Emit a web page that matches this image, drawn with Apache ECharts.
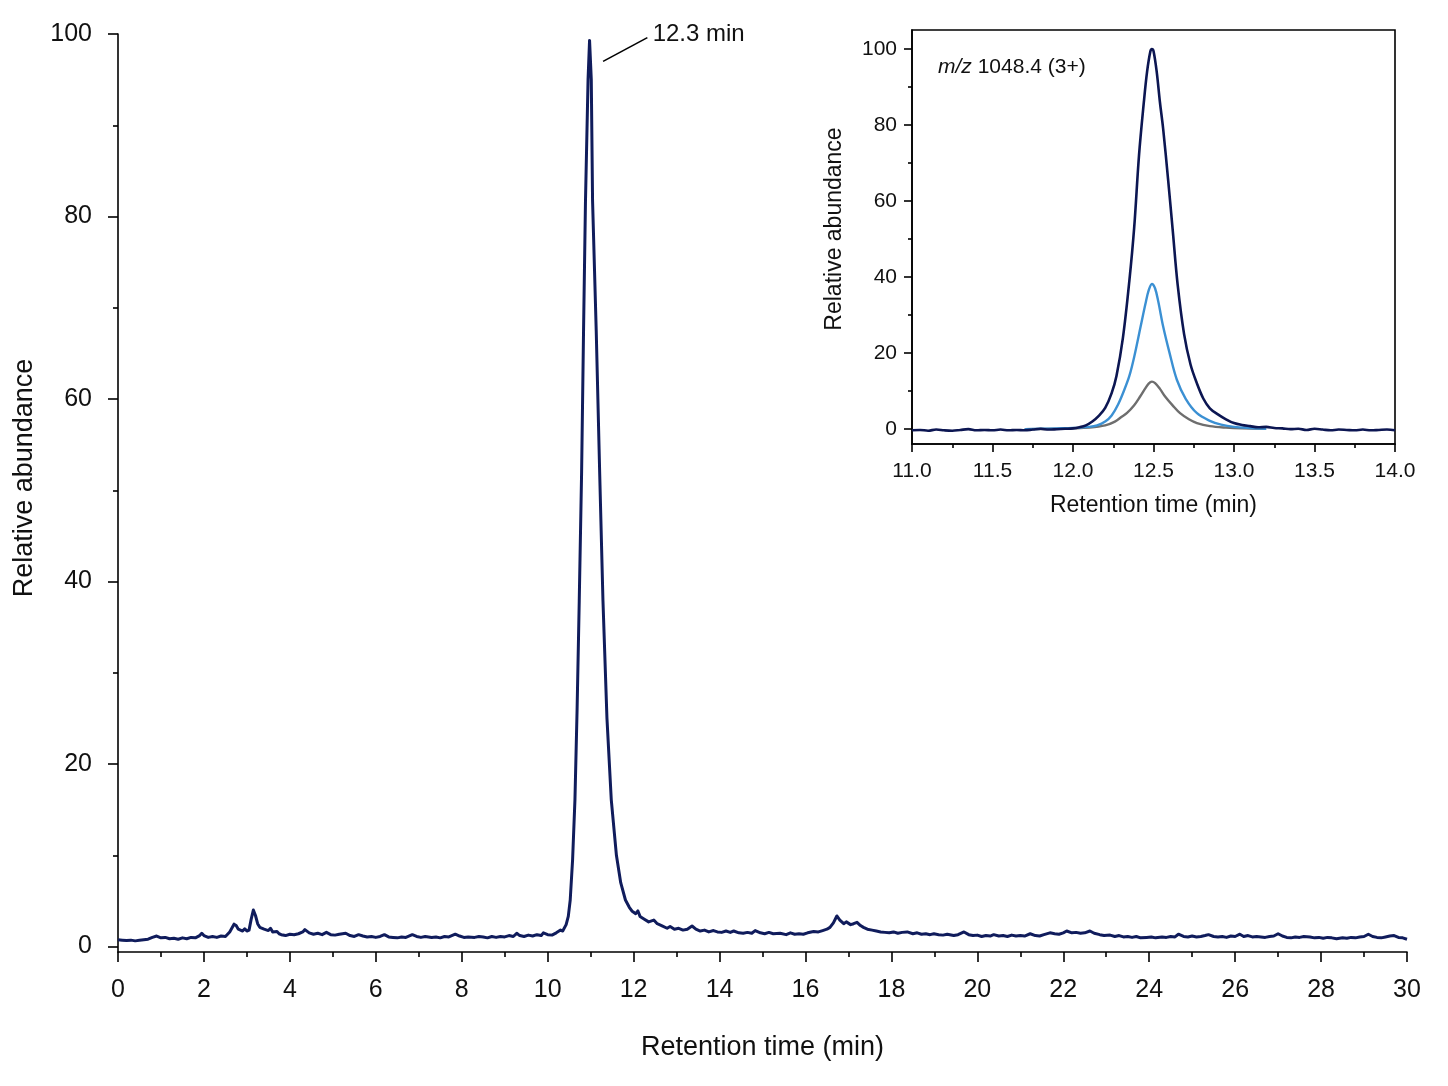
<!DOCTYPE html>
<html>
<head>
<meta charset="utf-8">
<title>Chromatogram</title>
<script src="https://cdn.jsdelivr.net/npm/echarts@6.0.0/dist/echarts.min.js"></script>
<style>
  html, body { margin: 0; padding: 0; background: #fff; }
  #chart { width: 1448px; height: 1086px; }
</style>
</head>
<body>
<div id="chart"></div>
<script>
  // main trace: [retention time (min), relative abundance]
  var mainTrace = [
    [0.0,0.75],[0.1,0.7],[0.2,0.65],[0.3,0.7],[0.4,0.62],[0.5,0.68],[0.6,0.75],[0.7,0.8],[0.8,1.0],[0.9,1.15],
    [1.0,0.95],[1.1,1.0],[1.2,0.85],[1.3,0.9],[1.4,0.8],[1.5,0.95],[1.6,0.85],[1.7,1.0],[1.8,0.95],[1.9,1.2],
    [1.95,1.45],[2.0,1.2],[2.1,1.0],[2.2,1.1],[2.3,1.0],[2.4,1.15],[2.5,1.1],[2.6,1.6],[2.7,2.45],[2.75,2.3],
    [2.8,1.9],[2.9,1.7],[2.95,1.95],[3.0,1.7],[3.05,1.8],[3.1,3.0],[3.15,4.0],[3.2,3.4],[3.25,2.5],[3.3,2.1],
    [3.4,1.9],[3.5,1.75],[3.55,2.0],[3.6,1.6],[3.7,1.65],[3.75,1.4],[3.8,1.3],[3.9,1.2],[4.0,1.35],[4.1,1.3],
    [4.2,1.4],[4.3,1.6],[4.35,1.85],[4.45,1.5],[4.55,1.35],[4.65,1.45],[4.75,1.3],[4.85,1.55],[4.95,1.3],[5.05,1.25],
    [5.15,1.35],[5.3,1.45],[5.4,1.2],[5.5,1.1],[5.6,1.3],[5.7,1.15],[5.8,1.05],[5.9,1.1],[6.0,1.0],[6.1,1.1],
    [6.2,1.3],[6.3,1.05],[6.4,1.0],[6.5,0.95],[6.6,1.05],[6.7,1.0],[6.85,1.3],[6.95,1.1],[7.05,1.0],[7.15,1.1],
    [7.3,1.0],[7.4,1.05],[7.5,0.95],[7.6,1.1],[7.7,1.05],[7.85,1.35],[7.95,1.15],[8.05,1.0],[8.15,1.05],[8.3,1.0],
    [8.4,1.1],[8.5,1.05],[8.6,0.95],[8.7,1.1],[8.8,1.0],[8.9,1.1],[9.0,1.05],[9.1,1.2],[9.2,1.1],[9.28,1.45],
    [9.35,1.2],[9.45,1.1],[9.55,1.25],[9.65,1.15],[9.75,1.3],[9.85,1.2],[9.9,1.5],[10.0,1.3],[10.1,1.25],[10.2,1.5],
    [10.3,1.8],[10.35,1.7],[10.43,2.4],[10.48,3.3],[10.525,5.1],[10.58,9.5],[10.635,16.1],[10.685,26],[10.735,37.9],[10.79,52],
    [10.835,67.5],[10.88,81.7],[10.94,95],[10.975,99.3],[11.015,95],[11.045,81.7],[11.13,67.5],[11.21,52],[11.287,37.9],[11.38,25],
    [11.48,16.1],[11.6,10],[11.7,7],[11.81,5.1],[11.9,4.3],[11.96,3.9],[12.05,3.6],[12.1,3.9],[12.15,3.3],[12.25,3.0],
    [12.35,2.7],[12.47,2.9],[12.55,2.5],[12.65,2.3],[12.78,2.0],[12.85,2.2],[12.95,1.9],[13.05,2.0],[13.15,1.8],[13.25,1.9],
    [13.36,2.25],[13.45,1.9],[13.55,1.7],[13.65,1.8],[13.75,1.6],[13.86,1.75],[13.95,1.6],[14.05,1.55],[14.15,1.7],[14.25,1.55],
    [14.33,1.7],[14.45,1.5],[14.55,1.45],[14.65,1.55],[14.75,1.45],[14.83,1.75],[14.95,1.5],[15.05,1.4],[15.15,1.55],[15.25,1.4],
    [15.41,1.45],[15.55,1.3],[15.65,1.5],[15.75,1.35],[15.85,1.4],[15.95,1.35],[16.05,1.5],[16.19,1.65],[16.3,1.6],[16.4,1.75],
    [16.5,1.9],[16.57,2.1],[16.65,2.6],[16.73,3.35],[16.8,2.9],[16.89,2.5],[16.95,2.7],[17.05,2.4],[17.12,2.5],[17.2,2.65],
    [17.28,2.3],[17.35,2.1],[17.44,1.9],[17.55,1.8],[17.65,1.7],[17.75,1.6],[17.85,1.55],[17.95,1.5],[18.05,1.6],[18.15,1.45],
    [18.25,1.55],[18.37,1.6],[18.5,1.4],[18.6,1.5],[18.7,1.35],[18.8,1.4],[18.9,1.3],[18.99,1.4],[19.1,1.3],[19.2,1.25],
    [19.3,1.35],[19.45,1.2],[19.55,1.3],[19.69,1.6],[19.8,1.3],[19.9,1.2],[20.0,1.25],[20.1,1.1],[20.2,1.2],[20.3,1.15],
    [20.38,1.3],[20.5,1.15],[20.6,1.2],[20.7,1.1],[20.8,1.25],[20.9,1.15],[21.0,1.2],[21.1,1.15],[21.23,1.4],[21.35,1.2],
    [21.45,1.15],[21.55,1.3],[21.69,1.5],[21.8,1.4],[21.9,1.35],[22.0,1.5],[22.08,1.7],[22.2,1.5],[22.3,1.55],[22.4,1.45],
    [22.5,1.5],[22.62,1.7],[22.72,1.45],[22.85,1.3],[22.95,1.2],[23.09,1.25],[23.2,1.1],[23.3,1.2],[23.4,1.05],[23.5,1.1],
    [23.6,1.0],[23.7,1.1],[23.8,0.95],[23.94,1.0],[24.05,1.05],[24.15,0.95],[24.3,1.05],[24.4,1.0],[24.5,1.1],[24.6,1.05],
    [24.68,1.35],[24.8,1.1],[24.9,1.05],[25.0,1.15],[25.1,1.05],[25.2,1.1],[25.3,1.2],[25.38,1.3],[25.5,1.1],[25.6,1.05],
    [25.7,1.1],[25.8,1.0],[25.9,1.15],[26.0,1.1],[26.11,1.35],[26.2,1.1],[26.3,1.2],[26.4,1.05],[26.5,1.1],[26.6,1.05],
    [26.7,1.0],[26.8,1.1],[26.9,1.15],[27.0,1.4],[27.1,1.15],[27.2,1.0],[27.3,0.95],[27.4,1.05],[27.5,1.0],[27.6,1.1],
    [27.74,1.05],[27.85,0.95],[27.95,1.0],[28.05,0.9],[28.15,1.0],[28.25,0.95],[28.36,0.85],[28.5,0.95],[28.6,0.9],[28.7,1.0],
    [28.8,0.95],[28.9,1.05],[29.0,1.1],[29.1,1.35],[29.2,1.1],[29.3,1.0],[29.4,0.95],[29.5,1.05],[29.6,1.15],[29.7,1.2],
    [29.8,1.0],[29.9,0.95],[30.0,0.8]
  ];

  // inset: extracted ion traces for m/z 1048.4 (3+)
  var insetNavy = [
    [11.0,-0.3],[11.05,-0.2],[11.1,-0.4],[11.15,-0.1],[11.2,-0.3],[11.25,-0.4],[11.3,-0.2],[11.35,0.0],[11.4,-0.3],[11.45,-0.2],
    [11.5,-0.3],[11.55,-0.1],[11.6,-0.3],[11.65,-0.2],[11.7,-0.3],[11.75,-0.1],[11.8,0.1],[11.85,-0.1],[11.9,0.0],[11.95,0.1],
    [12.0,0.2],[12.04,0.5],[12.08,1.0],[12.12,2.0],[12.16,3.5],[12.2,5.6],[12.24,9.5],[12.27,14],[12.31,24],[12.35,39],
    [12.38,53],[12.41,72],[12.44,86],[12.46,94],[12.48,99.3],[12.49,100],[12.5,99.5],[12.52,94],[12.54,86],[12.56,79],
    [12.59,66],[12.62,52],[12.65,38],[12.69,25],[12.73,17],[12.77,12],[12.81,8],[12.85,5.5],[12.9,3.9],[12.95,2.6],
    [13.0,1.6],[13.05,1.1],[13.1,0.8],[13.15,0.5],[13.2,0.6],[13.25,0.3],[13.3,0.2],[13.35,0.0],[13.4,0.1],[13.45,-0.2],
    [13.5,0.1],[13.55,-0.1],[13.6,-0.3],[13.65,-0.1],[13.7,-0.2],[13.75,-0.3],[13.8,-0.1],[13.85,-0.3],[13.9,-0.2],[13.95,-0.1],
    [14.0,-0.3]
  ];
  var insetBlue = [
    [11.7,0.0],[11.8,0.1],[11.9,0.2],[12.0,0.3],[12.1,0.6],[12.15,1.0],[12.2,2.0],[12.24,3.6],[12.28,6.5],[12.32,10.5],
    [12.35,14],[12.38,19],[12.42,27],[12.45,33],[12.47,36.5],[12.49,38.2],[12.51,37],[12.53,33.5],[12.56,27],[12.6,20],
    [12.645,13],[12.7,8],[12.77,4.2],[12.85,2.2],[12.92,1.2],[13.0,0.6],[13.1,0.3],[13.2,0.1]
  ];
  var insetGrey = [
    [11.7,0.0],[11.9,0.1],[12.0,0.2],[12.1,0.4],[12.2,1.0],[12.26,2.0],[12.3,3.2],[12.334,4.2],[12.38,6.3],[12.417,8.6],
    [12.45,10.8],[12.47,12.0],[12.49,12.5],[12.51,12.1],[12.54,10.6],[12.572,8.6],[12.62,6.2],[12.665,4.2],[12.72,2.6],[12.77,1.6],
    [12.85,0.8],[12.95,0.4],[13.05,0.2],[13.2,0.1]
  ];

  var yMajorTicks = [0, 20, 40, 60, 80, 100];
  var yMinorTicks = [10, 30, 50, 70, 90];
  var peakLabel = '12.3 min';
  var insetTitle = 'm/z 1048.4 (3+)';

  var FONT = "'Liberation Sans', Arial, Helvetica, sans-serif";
  var INK = '#111';
  var AXIS = { color: '#000', width: 1.6 };

  var chart = echarts.init(document.getElementById('chart'));
  chart.setOption({
    animation: false,
    backgroundColor: '#fff',
    textStyle: { fontFamily: FONT, color: INK },
    grid: [
      { left: 118, right: 41, top: 34, bottom: 134 },
      { left: 912, right: 53, top: 30, bottom: 642, show: true, borderColor: '#000', borderWidth: 1.6, backgroundColor: '#fff', z: 5 }
    ],
    xAxis: [
      {
        gridIndex: 0, type: 'value', min: 0, max: 30, interval: 2,
        name: 'Retention time (min)', nameLocation: 'middle', nameGap: 82,
        nameTextStyle: { fontSize: 27, color: INK, fontFamily: FONT },
        axisLine: { onZero: false, lineStyle: AXIS },
        axisTick: { length: 10, lineStyle: AXIS },
        minorTick: { show: true, splitNumber: 2, length: 5, lineStyle: AXIS },
        axisLabel: { fontSize: 25, color: INK, margin: 26, fontFamily: FONT },
        splitLine: { show: false }
      },
      {
        gridIndex: 1, type: 'value', min: 11, max: 14, interval: 0.5,
        name: 'Retention time (min)', nameLocation: 'middle', nameGap: 50,
        nameTextStyle: { fontSize: 23, color: INK, fontFamily: FONT },
        axisLine: { onZero: false, lineStyle: AXIS },
        axisTick: { length: 8, lineStyle: AXIS },
        minorTick: { show: true, splitNumber: 2, length: 4, lineStyle: AXIS },
        axisLabel: { fontSize: 21, color: INK, margin: 17, fontFamily: FONT,
          formatter: function (v) { return v.toFixed(1); } },
        splitLine: { show: false }, z: 6
      }
    ],
    yAxis: [
      {
        gridIndex: 0, type: 'value', position: 'left', min: -0.6, max: 100,
        name: 'Relative abundance', nameLocation: 'middle', nameGap: 80,
        nameTextStyle: { fontSize: 27, color: INK, fontFamily: FONT, padding: [0, 0, 0, 30] },
        axisLine: { show: true, lineStyle: AXIS },
        axisTick: { show: true, length: 10, lineStyle: AXIS, customValues: yMajorTicks },
        axisLabel: { fontSize: 25, color: INK, margin: 26, fontFamily: FONT, customValues: yMajorTicks },
        splitLine: { show: false }
      },
      {
        gridIndex: 0, type: 'value', position: 'left', offset: 0, min: -0.6, max: 100,
        axisLine: { show: false },
        axisTick: { show: true, length: 5, lineStyle: AXIS, customValues: yMinorTicks },
        axisLabel: { show: false },
        splitLine: { show: false }
      },
      {
        gridIndex: 1, type: 'value', position: 'left', min: -3.9, max: 105,
        name: 'Relative abundance', nameLocation: 'middle', nameGap: 66,
        nameTextStyle: { fontSize: 23, color: INK, fontFamily: FONT, padding: [0, 0, 0, 16] },
        axisLine: { show: true, lineStyle: AXIS },
        axisTick: { show: true, length: 8, lineStyle: AXIS, customValues: yMajorTicks },
        axisLabel: { fontSize: 21, color: INK, margin: 15, fontFamily: FONT, customValues: yMajorTicks },
        splitLine: { show: false }, z: 6
      },
      {
        gridIndex: 1, type: 'value', position: 'left', offset: 0, min: -3.9, max: 105,
        axisLine: { show: false },
        axisTick: { show: true, length: 4, lineStyle: AXIS, customValues: yMinorTicks },
        axisLabel: { show: false },
        splitLine: { show: false }, z: 6
      }
    ],
    series: [
      {
        name: 'TIC', type: 'line', xAxisIndex: 0, yAxisIndex: 0,
        data: mainTrace, showSymbol: false, silent: true,
        lineStyle: { color: '#101c5c', width: 3, join: 'round' },
        markLine: {
          silent: true, symbol: ['none', 'none'],
          lineStyle: { color: '#000', width: 1.6, type: 'solid' },
          label: { show: true, position: 'end', formatter: peakLabel, color: INK,
            fontSize: 24, fontFamily: FONT, distance: 6, align: 'left', verticalAlign: 'middle' },
          emphasis: { disabled: true },
          data: [[{ coord: [11.29, 97.0] }, { coord: [12.32, 99.6] }]]
        }
      },
      {
        name: 'grey', type: 'line', xAxisIndex: 1, yAxisIndex: 2, z: 7,
        data: insetGrey, showSymbol: false, silent: true, smooth: 0.35,
        lineStyle: { color: '#6e6e6e', width: 2.4, join: 'round' }
      },
      {
        name: 'blue', type: 'line', xAxisIndex: 1, yAxisIndex: 2, z: 8,
        data: insetBlue, showSymbol: false, silent: true, smooth: 0.35,
        lineStyle: { color: '#3b90d3', width: 2.4, join: 'round' }
      },
      {
        name: 'navy', type: 'line', xAxisIndex: 1, yAxisIndex: 2, z: 9,
        data: insetNavy, showSymbol: false, silent: true, smooth: 0.35,
        lineStyle: { color: '#0c1652', width: 2.6, join: 'round' }
      }
    ],
    graphic: [
      {
        type: 'text', left: 938, top: 57, z: 20,
        style: {
          text: '{i|m/z} ' + insetTitle.slice(4),
          fontSize: 21, fontFamily: FONT, fill: INK,
          rich: { i: { fontStyle: 'italic', fontSize: 21, fontFamily: FONT, fill: INK } }
        }
      }
    ]
  });
</script>
</body>
</html>
